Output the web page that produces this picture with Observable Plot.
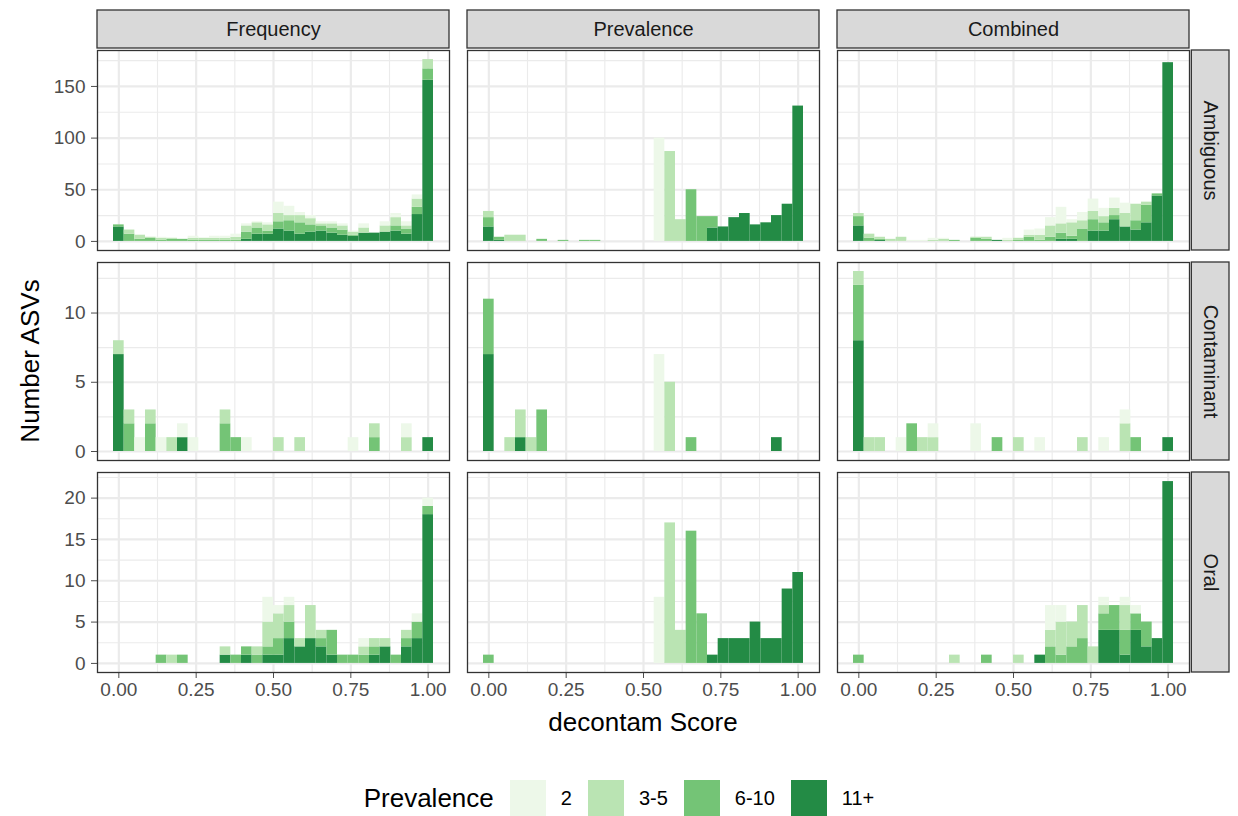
<!DOCTYPE html>
<html>
<head>
<meta charset="utf-8">
<script src="https://cdn.jsdelivr.net/npm/d3@7"></script>
<script src="https://cdn.jsdelivr.net/npm/@observablehq/plot@0.6"></script>
<style>
  html, body { margin: 0; padding: 0; background: #ffffff; }
  #wrap { position: relative; width: 1238px; height: 816px; font-family: "Liberation Sans", Arial, Helvetica, sans-serif; overflow: hidden; }
  #rows svg { display: block; }
  .title { position: absolute; font-size: 26px; color: #000; white-space: nowrap; }
  #ytitle { left: 30px; top: 361px; transform: translate(-50%, -50%) rotate(-90deg); }
  #xtitle { left: 643px; top: 722px; transform: translate(-50%, -50%); }
  #legend { position: absolute; left: 0; top: 780px; width: 1238px; height: 36px; display: flex; justify-content: center; align-items: center; }
  #legend .ltitle { font-size: 26px; color: #000; margin-right: 16px; }
  .lg-swatches { font-family: "Liberation Sans", Arial, sans-serif !important; font-size: 20px !important; color: #000 !important; margin: 0 !important; min-height: 36px !important; }
  .lg-swatch { margin-right: 16px !important; }
  .lg-swatch:last-child { margin-right: 0 !important; }
  .lg-swatch > svg { margin-right: 15px !important; }
</style>
</head>
<body>
<div id="wrap">
  <div id="rows"></div>
  <div id="ytitle" class="title">Number ASVs</div>
  <div id="xtitle" class="title">decontam Score</div>
  <div id="legend"></div>
</div>
<script>
// ---------------- data ----------------
const methods = ["Frequency", "Prevalence", "Combined"];
const types = ["Ambiguous", "Contaminant", "Oral"];
const levels = ["2", "3-5", "6-10", "11+"];
const levelColors = ["#edf8e9", "#bae4b3", "#74c476", "#238b45"];
const stackOrder = ["11+", "6-10", "3-5", "2"]; // bottom to top
const nBins = 30; // bin centres at k / (nBins - 1)
const xMajor = [0, 0.25, 0.5, 0.75, 1];
const xMinor = [0.125, 0.375, 0.625, 0.875];
const xTickLabels = ["0.00", "0.25", "0.50", "0.75", "1.00"];
const yTicksAmbiguous = [0, 50, 100, 150];
const yMinorAmbiguous = [25, 75, 125, 175];
const yTicksContaminant = [0, 5, 10];
const yMinorContaminant = [2.5, 7.5, 12.5];
const yTicksOral = [0, 5, 10, 15, 20];
const yMinorOral = [2.5, 7.5, 12.5, 17.5, 22.5];

// rows: [bin index, count "2", count "3-5", count "6-10", count "11+"]
const freqAmbiguous = [
  [0,0,0,2,14],[1,0,4,7,0],[2,0,4,2,0],[3,0,1,3,0],[4,1,2,1,0],[5,0,1,2,0],[6,0,0,2,0],
  [7,2,2,1,0],[8,0,2,1,0],[9,2,2,1,0],[10,2,2,1,0],[11,3,3,1,0],[12,2,6,7,2],[13,1,5,6,7],
  [14,2,6,3,7],[15,11,8,7,12],[16,9,5,10,10],[17,3,7,11,7],[18,3,6,7,9],[19,2,2,5,10],
  [20,2,4,5,8],[21,2,4,5,6],[22,1,3,1,5],[23,4,5,0,8],[24,0,0,0,8],[25,4,6,0,9],
  [26,4,8,5,10],[27,4,3,5,7],[28,4,8,7,26],[29,0,9,11,156]
];
const prevAmbiguous = [
  [0,0,6,9,14],[1,0,0,3,1],[2,0,6,0,0],[3,0,6,0,0],[5,0,0,2,0],[7,0,0,1,0],[9,0,0,1,0],
  [10,0,0,1,0],[16,100,0,0,0],[17,0,87,0,0],[18,0,21,0,0],[19,0,0,50,0],[20,0,0,24,0],
  [21,0,0,11,13],[22,0,0,0,14],[23,0,0,0,23],[24,0,0,0,27],[25,0,0,0,16],[26,0,0,0,18],
  [27,0,0,0,25],[28,0,0,0,36],[29,0,0,0,131]
];
const combAmbiguous = [
  [0,0,3,9,15],[1,0,4,3,0],[2,0,2,1,1],[3,0,2,0,0],[4,0,4,0,0],[5,1,0,0,0],[6,1,0,0,0],
  [7,2,1,0,0],[8,1,2,0,0],[9,0,0,1,0],[11,0,1,3,0],[12,0,2,2,0],[13,0,0,0,1],[14,2,1,0,0],
  [15,0,2,1,0],[16,5,2,4,0],[17,6,5,1,0],[18,8,11,4,0],[19,16,9,6,2],[20,3,13,3,2],
  [21,8,8,12,0],[22,12,8,11,10],[23,8,6,8,10],[24,10,7,4,21],[25,10,13,0,14],
  [26,0,16,9,11],[27,0,3,17,18],[28,0,0,2,44],[29,0,0,0,173]
];
const freqContaminant = [
  [0,0,1,0,7],[1,0,1,2,0],[2,1,0,0,0],[3,0,1,2,0],[4,1,0,0,0],[5,0,1,0,0],[6,1,0,0,1],
  [7,1,0,0,0],[10,0,1,2,0],[11,0,0,1,0],[12,1,0,0,0],[15,0,1,0,0],[17,0,1,0,0],
  [22,1,0,0,0],[24,0,1,1,0],[27,1,1,0,0],[29,0,0,0,1]
];
const prevContaminant = [
  [0,0,0,4,7],[2,0,1,0,0],[3,0,2,0,1],[4,0,1,0,0],[5,0,0,3,0],[16,7,0,0,0],[17,0,5,0,0],
  [19,0,0,1,0],[27,0,0,0,1]
];
const combContaminant = [
  [0,0,1,4,8],[1,0,1,0,0],[2,0,1,0,0],[4,1,0,0,0],[5,0,0,2,0],[6,0,1,0,0],[7,1,1,0,0],
  [11,2,0,0,0],[13,0,0,1,0],[15,0,1,0,0],[17,1,0,0,0],[21,0,1,0,0],[23,1,0,0,0],
  [25,1,2,0,0],[26,0,0,1,0],[29,0,0,0,1]
];
const freqOral = [
  [4,0,0,1,0],[5,0,1,0,0],[6,0,0,1,0],[10,0,1,0,1],[11,0,0,1,0],[12,0,0,1,1],[13,0,1,1,0],
  [14,3,3,1,1],[15,1,3,2,1],[16,1,2,2,3],[17,0,1,0,2],[18,0,4,0,3],[19,0,1,1,2],
  [20,0,0,3,1],[21,0,0,1,0],[22,0,0,1,0],[23,1,1,1,0],[24,0,1,1,1],[25,0,1,0,2],
  [26,0,0,1,0],[27,0,1,1,2],[28,1,0,2,3],[29,1,0,1,18]
];
const prevOral = [
  [0,0,0,1,0],[16,8,0,0,0],[17,0,17,0,0],[18,0,4,0,0],[19,0,0,16,0],[20,0,0,6,0],
  [21,0,0,0,1],[22,0,0,0,3],[23,0,0,0,3],[24,0,0,0,3],[25,0,0,0,5],[26,0,0,0,3],
  [27,0,0,0,3],[28,0,0,0,9],[29,0,0,0,11]
];
const combOral = [
  [0,0,0,1,0],[9,0,1,0,0],[12,0,0,1,0],[15,0,1,0,0],[17,0,0,0,1],[18,3,2,2,0],[19,2,4,1,0],
  [20,0,3,2,0],[21,0,4,3,0],[22,0,2,0,0],[23,1,1,2,4],[24,0,0,3,4],[25,1,3,3,1],
  [26,1,0,2,4],[27,0,0,3,2],[28,0,0,0,3],[29,0,0,0,22]
];

// ---------------- layout ----------------
const WIDTH = 1238, ML = 97, MR = 48, colGap = 18;
const R = WIDTH - ML - MR;
const fxPad = colGap / ((R + colGap) / methods.length);
const frameW = d3.scaleBand(methods, [ML, WIDTH - MR]).paddingInner(fxPad).paddingOuter(0).bandwidth();
const stripSize = 38, stripGap = 2;
const binW = 1 / (nBins - 1);
const xDomain = [-binW / 2 - 0.05 * (1 + binW), 1 + binW / 2 + 0.05 * (1 + binW)];
const fontStack = "'Liberation Sans', Arial, Helvetica, sans-serif";

function longData(method, rows) {
  const out = [];
  for (const [k, ...counts] of rows) {
    for (let i = counts.length - 1; i >= 0; i--) {
      if (counts[i] > 0) out.push({method, score: k / (nBins - 1), level: levels[i], n: counts[i]});
    }
  }
  return out;
}

function rowPlot({name, panels, yTicks, yMinor, marginTop, frameH, marginBottom, topStrips, xAxis}) {
  const data = methods.flatMap((m, i) => longData(m, panels[i]));
  const totals = d3.rollups(data, v => d3.sum(v, d => d.n), d => d.method, d => d.score)
    .flatMap(([, arr]) => arr.map(([, t]) => t));
  const yMax = d3.max(totals);
  const marks = [
    Plot.ruleX(xMinor, {stroke: "#ebebeb", strokeWidth: 1.1}),
    Plot.ruleX(xMajor, {stroke: "#ebebeb", strokeWidth: 2.2}),
    Plot.ruleY(yMinor, {stroke: "#ebebeb", strokeWidth: 1.1}),
    Plot.ruleY(yTicks, {stroke: "#ebebeb", strokeWidth: 2.2}),
    Plot.rectY(data, {
      fx: "method",
      x1: d => d.score - binW / 2,
      x2: d => d.score + binW / 2,
      y: "n",
      fill: "level",
      order: stackOrder,
      inset: 0
    }),
    Plot.frame({stroke: "#333333", strokeWidth: 1.3}),
    Plot.rect([name], {
      fx: () => "Combined",
      fill: "#d9d9d9", stroke: "#333333", strokeWidth: 1.3,
      insetLeft: frameW + stripGap, insetRight: -(stripGap + stripSize)
    }),
    Plot.text([name], {
      fx: () => "Combined", text: d => d, frameAnchor: "right",
      textAnchor: "middle", lineAnchor: "middle",
      dx: stripGap + stripSize / 2, rotate: 90, fontSize: 20, fill: "#1a1a1a"
    })
  ];
  if (topStrips) {
    marks.push(
      Plot.rect(methods, {
        fx: d => d, fill: "#d9d9d9", stroke: "#333333", strokeWidth: 1.3,
        insetTop: -(stripGap + stripSize), insetBottom: frameH + stripGap
      }),
      Plot.text(methods, {
        fx: d => d, text: d => d, frameAnchor: "top", lineAnchor: "middle",
        dy: -(stripGap + stripSize / 2), fontSize: 20, fill: "#1a1a1a"
      })
    );
  }
  return Plot.plot({
    width: WIDTH,
    height: marginTop + frameH + marginBottom,
    marginLeft: ML, marginRight: MR, marginTop, marginBottom,
    style: {fontFamily: fontStack, fontSize: "19px", color: "#4d4d4d", background: "#ffffff", overflow: "visible"},
    fx: {domain: methods, paddingInner: fxPad, paddingOuter: 0, axis: null, label: null},
    x: {
      domain: xDomain,
      axis: xAxis ? "bottom" : null,
      ticks: xMajor,
      tickFormat: (d) => xTickLabels[xMajor.indexOf(d)],
      tickSize: 6, tickPadding: 4, label: null
    },
    y: {domain: [-0.05 * yMax, 1.05 * yMax], ticks: yTicks, tickSize: 6, tickPadding: 6, label: null},
    color: {domain: levels, range: levelColors},
    marks
  });
}

const rows = document.getElementById("rows");
rows.append(rowPlot({name: types[0], panels: [freqAmbiguous, prevAmbiguous, combAmbiguous],
  yTicks: yTicksAmbiguous, yMinor: yMinorAmbiguous, marginTop: 50, frameH: 200, marginBottom: 6, topStrips: true, xAxis: false}));
rows.append(rowPlot({name: types[1], panels: [freqContaminant, prevContaminant, combContaminant],
  yTicks: yTicksContaminant, yMinor: yMinorContaminant, marginTop: 6, frameH: 198, marginBottom: 6, topStrips: false, xAxis: false}));
rows.append(rowPlot({name: types[2], panels: [freqOral, prevOral, combOral],
  yTicks: yTicksOral, yMinor: yMinorOral, marginTop: 6, frameH: 200, marginBottom: 70, topStrips: false, xAxis: true}));

// legend
const legendDiv = document.getElementById("legend");
const lt = document.createElement("span");
lt.className = "ltitle";
lt.textContent = "Prevalence";
legendDiv.append(lt);
legendDiv.append(Plot.legend({color: {domain: levels, range: levelColors}, swatchSize: 36, className: "lg"}));
</script>
</body>
</html>
